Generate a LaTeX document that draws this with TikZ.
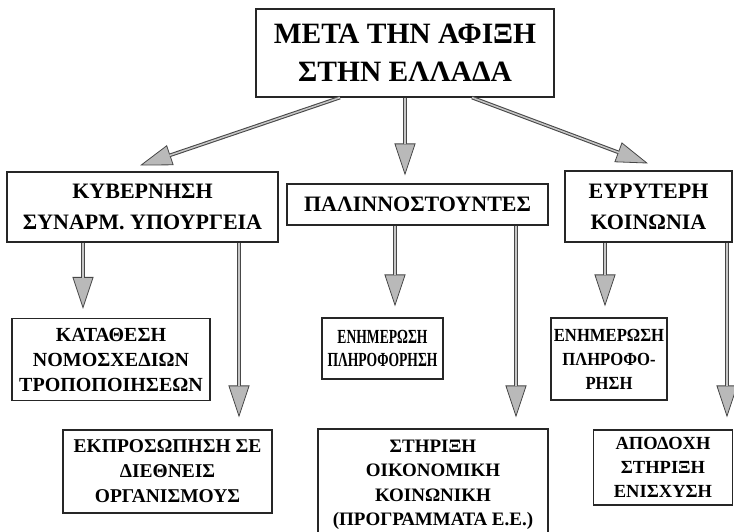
\documentclass[tikz,border=0pt]{standalone}
\usepackage{fontspec}
\setmainfont{Liberation Serif}
\newfontfamily\narrowserif[FakeStretch=0.68]{Liberation Serif}
\newfontfamily\semiserif[FakeStretch=0.9]{Liberation Serif}
\usetikzlibrary{arrows.meta}
\begin{document}
\begin{tikzpicture}[x=1pt,y=-1pt,
  box/.style={draw=black!85, line width=1.1pt, fill=white, align=center, inner sep=0pt},
  ttl/.style={font=\bfseries\fontsize{29.5}{38}\selectfont},
  lvtwo/.style={font=\bfseries\fontsize{22}{31}\selectfont},
  lvthree/.style={font=\bfseries\fontsize{20}{25}\selectfont},
  arr/.style={line width=3.6pt, draw=black!72,
    -{Triangle[width=21pt,length=32pt,fill=gray!55,line width=0.8pt]},
    postaction={draw=gray!45, line width=1.5pt, -, shorten >=31pt}},
]
\useasboundingbox (0,0) rectangle (734,531);

% boxes
\node[box, ttl, minimum width=298pt, minimum height=88pt] (top) at (405,53)
  {ΜΕΤΑ ΤΗΝ ΑΦΙΞΗ\\ΣΤΗΝ ΕΛΛΑΔΑ};

\node[box, lvtwo, minimum width=271pt, minimum height=70pt] (kyb) at (142.5,207)
  {ΚΥΒΕΡΝΗΣΗ\\ΣΥΝΑΡΜ. ΥΠΟΥΡΓΕΙΑ};
\node[box, lvtwo, minimum width=261pt, minimum height=41pt] (pal) at (417.5,204.5)
  {ΠΑΛΙΝΝΟΣΤΟΥΝΤΕΣ};
\node[box, lvtwo, minimum width=167pt, minimum height=71pt] (eur) at (648.5,206.5)
  {ΕΥΡΥΤΕΡΗ\\ΚΟΙΝΩΝΙΑ};

\node[box, lvthree, minimum width=198pt, minimum height=82pt] (kat) at (111,359.5)
  {ΚΑΤΑΘΕΣΗ\\ΝΟΜΟΣΧΕΔΙΩΝ\\ΤΡΟΠΟΠΟΙΗΣΕΩΝ};
\node[box, font=\bfseries\fontsize{19.5}{25}\selectfont, minimum width=209pt, minimum height=83pt] (ekp) at (167.5,471.5)
  {ΕΚΠΡΟΣΩΠΗΣΗ ΣΕ\\ΔΙΕΘΝΕΙΣ\\ΟΡΓΑΝΙΣΜΟΥΣ};
\node[box, font=\narrowserif\bfseries\fontsize{20}{23}\selectfont, minimum width=121pt, minimum height=61pt] (enha) at (382.5,348.5)
  {ΕΝΗΜΕΡΩΣΗ\\ΠΛΗΡΟΦΟΡΗΣΗ};
\node[box, font=\bfseries\fontsize{19}{24.5}\selectfont, minimum width=230pt, minimum height=112pt] (str) at (433,485)
  {ΣΤΗΡΙΞΗ\\ΟΙΚΟΝΟΜΙΚΗ\\ΚΟΙΝΩΝΙΚΗ\\(ΠΡΟΓΡΑΜΜΑΤΑ Ε.Ε.)};
\node[box, font=\semiserif\bfseries\fontsize{18.5}{24}\selectfont, minimum width=116pt, minimum height=82pt] (enhb) at (609,359)
  {ΕΝΗΜΕΡΩΣΗ\\ΠΛΗΡΟΦΟ-\\ΡΗΣΗ};
\node[box, font=\bfseries\fontsize{18.5}{24}\selectfont, minimum width=139pt, minimum height=75pt] (apo) at (663,467.5)
  {ΑΠΟΔΟΧΗ\\ΣΤΗΡΙΞΗ\\ΕΝΙΣΧΥΣΗ};

% arrows
\draw[arr] ([xshift=-65pt]top.south) -- ([xshift=-2.5pt,yshift=6pt]kyb.north);
\draw[arr] (top.south) -- ([xshift=-12.5pt,yshift=8pt]pal.north);
\draw[arr] ([xshift=67pt]top.south) -- ([xshift=-0.5pt,yshift=7pt]eur.north);

\draw[arr] (kyb.south -| 83,0) -- ([yshift=9pt]kat.north -| 83,0);
\draw[arr] (kyb.south -| 239,0) -- ([yshift=12pt]ekp.north -| 239,0);
\draw[arr] (pal.south -| 395,0) -- ([yshift=11pt]enha.north -| 395,0);
\draw[arr] (pal.south -| 516,0) -- ([yshift=11pt]str.north -| 516,0);
\draw[arr] (eur.south -| 605,0) -- ([yshift=11pt]enhb.north -| 605,0);
\draw[arr] (eur.south -| 727,0) -- ([yshift=12pt]apo.north -| 727,0);
\end{tikzpicture}
\end{document}
